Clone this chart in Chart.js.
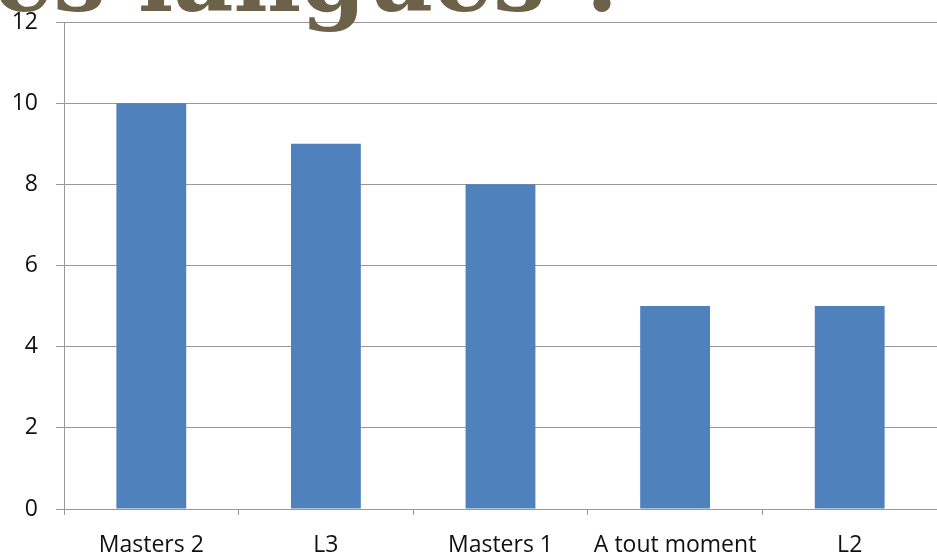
<!DOCTYPE html>
<html>
<head>
<meta charset="utf-8">
<script src="https://cdn.jsdelivr.net/npm/chart.js@4/dist/chart.umd.min.js"></script>
<style>
  html, body { margin: 0; padding: 0; background: #fff; overflow: hidden; }
  #wrap { width: 937px; height: 554px; position: relative; }
</style>
</head>
<body>
<div id="wrap"><canvas id="chart"></canvas></div>
<script>
const categories = ["Masters 2", "L3", "Masters 1", "A tout moment", "L2"];
const counts = [10, 9, 8, 5, 5];
const yTicks = [0, 2, 4, 6, 8, 10, 12];
const titleText = "es langues ?";

// big slide title, cut off at the top and drawn over the plot
const slideTitle = {
    id: "slideTitle",
    afterDraw(chart) {
        const ctx = chart.ctx;
        ctx.save();
        ctx.font = "bold 93px 'DejaVu Serif'";
        ctx.fillStyle = "#6b6249";
        ctx.textBaseline = "alphabetic";
        ctx.textAlign = "left";
        ctx.fillText(titleText, -6, 11);
        ctx.restore();
    },
};

const ctx = document.getElementById("chart").getContext("2d");
new Chart(ctx, {
    type: "bar",
    data: {
        labels: categories,
        datasets: [{ data: counts, backgroundColor: "#4f81bd", barPercentage: 0.4, categoryPercentage: 1 }],
    },
    options: {
        responsive: true,
        maintainAspectRatio: false,
        animation: false,
        layout: { padding: { top: 22, right: 0, left: 0, bottom: 0 } },
        plugins: {
            legend: { display: false },
            title: { display: false },
            tooltip: { enabled: false },
        },
        scales: {
            x: {
                grid: { drawOnChartArea: false, drawTicks: true, tickLength: 6, color: "#999", offset: true },
                border: { color: "#999" },
                ticks: { color: "#111", font: { family: "'Open Sans'", size: 23 }, padding: 17, maxRotation: 0, autoSkip: false },
                afterFit(scale) { scale.height = 45; },
            },
            y: {
                min: 0,
                max: 12,
                afterBuildTicks(scale) { scale.ticks = yTicks.map(v => ({ value: v })); },
                grid: { color: "#999", tickLength: 8 },
                border: { color: "#999" },
                ticks: { color: "#111", font: { family: "'Open Sans'", size: 23 }, padding: 18 },
                afterFit(scale) { scale.width = 64; scale.paddingTop = 0; scale.paddingBottom = 0; },
            },
        },
    },
    plugins: [slideTitle],
});
</script>
</body>
</html>
